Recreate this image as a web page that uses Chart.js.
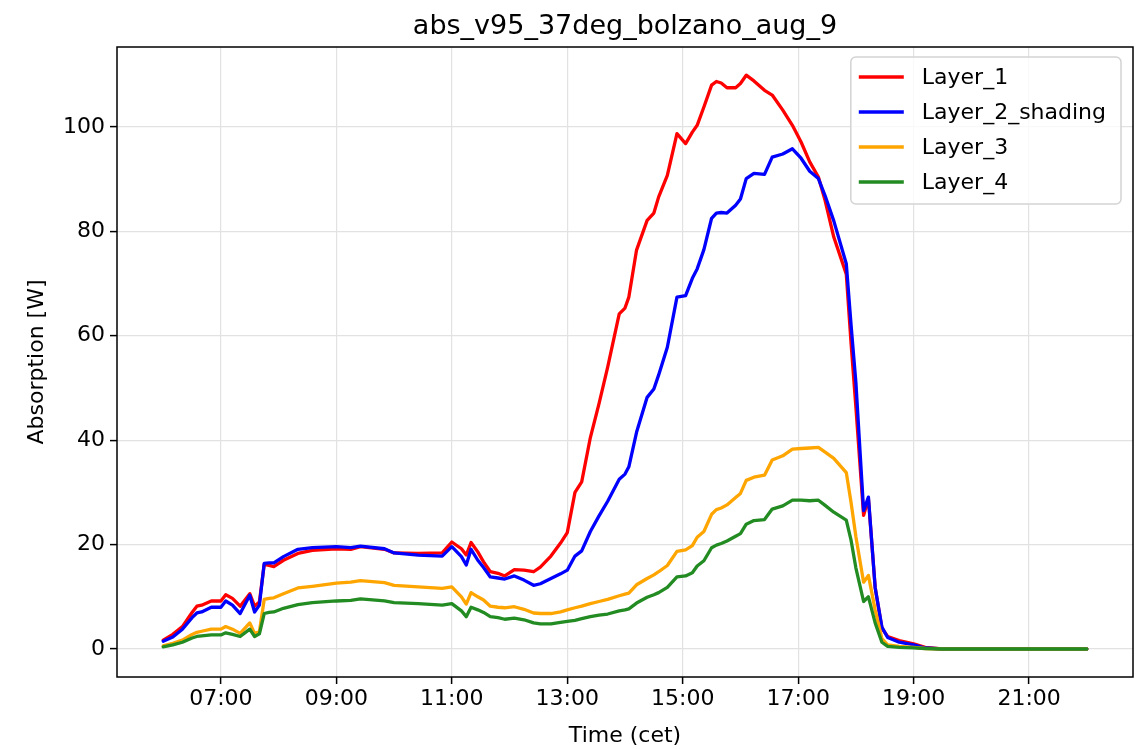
<!DOCTYPE html>
<html>
<head>
<meta charset="utf-8">
<title>abs_v95_37deg_bolzano_aug_9</title>
<script src="https://cdn.jsdelivr.net/npm/chart.js@4.4.1/dist/chart.umd.min.js"></script>
<style>
  html, body { margin: 0; padding: 0; background: #fff; }
  #wrap { width: 1141px; height: 749px; }
</style>
</head>
<body>
<div id="wrap"><canvas id="absorption" width="1141" height="749"></canvas></div>
<script>
'use strict';

/* ----------------------------------------------------------
   DATA (time of day, CET) and absorbed power per layer [W]
   ---------------------------------------------------------- */

var times = [
  '06:00', '06:10', '06:20', '06:30', '06:35', '06:40', '06:50', '07:00', '07:05', '07:12',
  '07:20', '07:30', '07:35', '07:40', '07:45', '07:50', '07:55', '08:05', '08:20', '08:35',
  '09:00', '09:15', '09:25', '09:50', '10:00', '10:25', '10:50', '11:00', '11:10', '11:15',
  '11:20', '11:27', '11:33', '11:40', '11:48', '11:55', '12:05', '12:15', '12:25', '12:32',
  '12:43', '12:53', '13:00', '13:08', '13:15', '13:24', '13:33', '13:42', '13:54', '14:00',
  '14:04', '14:12', '14:23', '14:30', '14:35', '14:44', '14:54', '15:03', '15:10', '15:15',
  '15:22', '15:30', '15:35', '15:40', '15:46', '15:55', '16:00', '16:06', '16:14', '16:25',
  '16:33', '16:44', '16:54', '17:03', '17:12', '17:21', '17:28', '17:37', '17:50', '17:55',
  '18:00', '18:08', '18:13', '18:20', '18:27', '18:33', '18:45', '19:00', '19:12', '19:30',
  '20:00', '21:00', '22:00'
];

var layer1 = [
  1.7, 2.8, 4.3, 7.0, 8.2, 8.4, 9.2, 9.2, 10.4, 9.7,
  8.2, 10.6, 8.2, 9.0, 16.2, 16.0, 15.8, 17.0, 18.3, 18.9,
  19.2, 19.1, 19.6, 19.1, 18.4, 18.3, 18.4, 20.5, 19.2, 18.0,
  20.4, 18.6, 16.7, 14.8, 14.5, 14.0, 15.2, 15.1, 14.8, 15.7,
  17.8, 20.3, 22.3, 30.0, 32.0, 40.5, 47.0, 54.0, 64.2, 65.3,
  67.4, 76.4, 82.1, 83.5, 86.6, 90.7, 98.7, 96.8, 99.0, 100.3,
  103.8, 108.0, 108.7, 108.4, 107.5, 107.5, 108.3, 109.9, 108.8, 107.0,
  106.1, 103.2, 100.3, 97.1, 93.3, 90.4, 85.9, 78.9, 71.8, 58.5,
  46.3, 25.6, 28.8, 11.8, 4.0, 2.4, 1.6, 1.0, 0.3, 0.0,
  0.0, 0.0, 0.0
];

var layer2Shading = [
  1.5, 2.3, 3.8, 6.0, 6.9, 7.1, 8.0, 8.0, 9.2, 8.4,
  6.8, 10.3, 7.1, 8.4, 16.4, 16.5, 16.5, 17.7, 19.1, 19.4,
  19.6, 19.4, 19.7, 19.2, 18.4, 18.0, 17.8, 19.6, 17.7, 16.1,
  19.1, 17.0, 15.6, 13.8, 13.6, 13.4, 14.0, 13.2, 12.2, 12.5,
  13.5, 14.4, 15.1, 17.8, 18.8, 22.5, 25.5, 28.3, 32.5, 33.5,
  34.9, 41.5, 48.2, 49.8, 52.5, 57.8, 67.4, 67.7, 71.0, 72.8,
  76.5, 82.5, 83.5, 83.6, 83.5, 85.0, 86.2, 90.1, 91.1, 90.9,
  94.2, 94.8, 95.8, 94.0, 91.5, 90.1, 86.8, 82.0, 73.8, 62.0,
  51.0, 26.5, 29.1, 11.8, 4.2, 2.2, 1.3, 0.8, 0.2, 0.0,
  0.0, 0.0, 0.0
];

var layer3 = [
  0.6, 1.1, 1.7, 2.8, 3.2, 3.4, 3.8, 3.8, 4.3, 3.8,
  3.0, 5.0, 3.0, 3.3, 9.5, 9.7, 9.8, 10.6, 11.7, 12.0,
  12.6, 12.8, 13.1, 12.7, 12.2, 11.9, 11.6, 11.9, 10.0, 8.6,
  10.8, 10.0, 9.4, 8.2, 8.0, 7.9, 8.1, 7.6, 6.9, 6.8,
  6.8, 7.1, 7.5, 7.9, 8.2, 8.7, 9.1, 9.5, 10.2, 10.5,
  10.7, 12.3, 13.5, 14.2, 14.8, 16.0, 18.7, 19.0, 19.8, 21.4,
  22.5, 25.8, 26.7, 27.0, 27.6, 29.0, 29.8, 32.3, 32.9, 33.3,
  36.2, 37.0, 38.3, 38.4, 38.5, 38.6, 37.7, 36.5, 33.8, 28.0,
  21.5, 12.8, 14.1, 7.5, 2.0, 0.8, 0.5, 0.3, 0.1, 0.0,
  0.0, 0.0, 0.0
];

var layer4 = [
  0.4, 0.8, 1.3, 2.1, 2.4, 2.5, 2.7, 2.7, 3.1, 2.8,
  2.4, 3.8, 2.4, 2.9, 6.8, 7.0, 7.1, 7.8, 8.5, 8.9,
  9.2, 9.3, 9.6, 9.2, 8.9, 8.7, 8.4, 8.7, 7.3, 6.2,
  8.0, 7.5, 7.0, 6.2, 6.0, 5.7, 5.9, 5.6, 5.0, 4.8,
  4.8, 5.1, 5.3, 5.5, 5.8, 6.2, 6.5, 6.7, 7.3, 7.5,
  7.7, 8.8, 9.9, 10.4, 10.8, 11.8, 13.8, 14.0, 14.6, 15.9,
  16.9, 19.4, 19.9, 20.2, 20.7, 21.6, 22.1, 23.9, 24.6, 24.8,
  26.8, 27.4, 28.5, 28.5, 28.4, 28.5, 27.5, 26.2, 24.7, 20.8,
  15.5, 9.1, 10.0, 5.0, 1.3, 0.5, 0.3, 0.2, 0.1, 0.0,
  0.0, 0.0, 0.0
];

var seriesNames = ['Layer_1', 'Layer_2_shading', 'Layer_3', 'Layer_4'];
var seriesColors = ['#ff0000', '#0000ff', '#ffa500', '#228b22'];
var xTickLabels = ['07:00', '09:00', '11:00', '13:00', '15:00', '17:00', '19:00', '21:00'];
var yTickValues = [0, 20, 40, 60, 80, 100];

var TITLE = 'abs_v95_37deg_bolzano_aug_9';
var FONT = "'DejaVu Sans', 'Liberation Sans', sans-serif";

/* ----------------------------------------------------------
   HELPERS
   ---------------------------------------------------------- */

function toHours(hhmm) {
  var p = hhmm.split(':');
  return parseInt(p[0], 10) + parseInt(p[1], 10) / 60;
}

function toPoints(values) {
  return times.map(function (t, i) { return { x: toHours(t), y: values[i] }; });
}

// title, frame (spines) and in-plot legend
var frameAndLegend = {
  id: 'frameAndLegend',
  beforeDraw: function (chart) {
    var c = chart.ctx;
    c.save();
    c.fillStyle = '#ffffff';
    c.fillRect(0, 0, chart.width, chart.height);
    c.restore();
  },
  afterDraw: function (chart) {
    var c = chart.ctx;
    var a = chart.chartArea;
    c.save();

    // spines
    c.strokeStyle = '#000';
    c.lineWidth = 1.5;
    c.strokeRect(a.left, a.top, a.right - a.left, a.bottom - a.top);

    // title
    c.fillStyle = '#000';
    c.font = '27px ' + FONT;
    c.textAlign = 'center';
    c.textBaseline = 'alphabetic';
    c.fillText(TITLE, (a.left + a.right) / 2, 34);

    // legend
    c.font = '22px ' + FONT;
    var maxW = 0;
    seriesNames.forEach(function (n) { maxW = Math.max(maxW, c.measureText(n).width); });
    var rowH = 35;
    var boxW = maxW + 86;
    var boxH = 20 + rowH * (seriesNames.length - 1) + 22;
    var bx = a.right - 12 - boxW;
    var by = a.top + 10;
    c.beginPath();
    c.roundRect(bx, by, boxW, boxH, 5);
    c.fillStyle = 'rgba(255,255,255,0.8)';
    c.fill();
    c.strokeStyle = '#d3d3d3';
    c.lineWidth = 1.5;
    c.stroke();

    c.textAlign = 'left';
    c.textBaseline = 'middle';
    chart.data.datasets.forEach(function (ds, i) {
      var y = by + 20 + i * rowH;
      c.strokeStyle = ds.borderColor;
      c.lineWidth = 3.3;
      c.beginPath();
      c.moveTo(bx + 8, y);
      c.lineTo(bx + 53, y);
      c.stroke();
      c.fillStyle = '#000';
      c.fillText(ds.label, bx + 71, y + 1);
    });
    c.restore();
  }
};

/* ----------------------------------------------------------
   CHART
   ---------------------------------------------------------- */

Chart.defaults.font.family = FONT;

var allSeries = [layer1, layer2Shading, layer3, layer4];

var datasets = allSeries.map(function (values, i) {
  return {
    label: seriesNames[i],
    data: toPoints(values),
    borderColor: seriesColors[i],
    backgroundColor: seriesColors[i],
    borderWidth: 3.3,
    borderJoinStyle: 'round',
    borderCapStyle: 'round',
    pointRadius: 0,
    tension: 0,
    fill: false,
    order: allSeries.length - i   // later layers drawn on top
  };
});

var gridColor = '#e2e2e2';

new Chart(document.getElementById('absorption'), {
  type: 'line',
  data: { datasets: datasets },
  options: {
    responsive: false,
    animation: false,
    events: [],
    layout: { padding: { left: 0, right: 8, top: 47, bottom: 0 } },
    plugins: {
      legend: { display: false },
      title: { display: false },
      tooltip: { enabled: false }
    },
    scales: {
      x: {
        type: 'linear',
        min: 5.2,
        max: 22.8,
        afterBuildTicks: function (scale) {
          scale.ticks = xTickLabels.map(function (l) { return { value: toHours(l) }; });
        },
        afterFit: function (scale) { scale.height = 72; },
        ticks: {
          autoSkip: false,
          maxRotation: 0,
          padding: 2,
          color: '#000',
          font: { size: 22 },
          callback: function (v, i) { return xTickLabels[i]; }
        },
        grid: { color: gridColor, lineWidth: 1.2, tickColor: '#000', tickLength: 7, tickWidth: 1.5 },
        border: { display: false },
        title: { display: true, text: 'Time (cet)', color: '#000', font: { size: 22 }, padding: { top: 0, bottom: 0 } }
      },
      y: {
        min: -5.36,
        max: 115.3,
        afterBuildTicks: function (scale) {
          scale.ticks = yTickValues.map(function (v) { return { value: v }; });
        },
        afterFit: function (scale) { scale.width = 117; },
        ticks: {
          padding: 5,
          color: '#000',
          font: { size: 22 },
          callback: function (v) { return String(v); }
        },
        grid: { color: gridColor, lineWidth: 1.2, tickColor: '#000', tickLength: 7, tickWidth: 1.5 },
        border: { display: false },
        title: { display: true, text: 'Absorption [W]', color: '#000', font: { size: 22 }, padding: { top: 24, bottom: 0 } }
      }
    }
  },
  plugins: [frameAndLegend]
});
</script>
</body>
</html>
